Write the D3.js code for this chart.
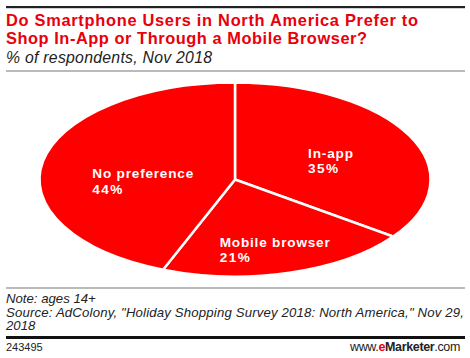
<!DOCTYPE html>
<html><head><meta charset="utf-8">
<script src="https://cdn.jsdelivr.net/npm/d3@7"></script>
<style>body{margin:0;background:#fff}svg{display:block}</style>
</head><body>
<svg id="c" width="470" height="358"></svg>
<script>
const categories = ["In-app", "Mobile browser", "No preference"];
const values = [35, 21, 44];
const valueLabels = ["35%", "21%", "44%"];

const svg = d3.select("#c");
const L = 6, R = 465;
const red = "#ff0000";
const font = "'Liberation Sans', Arial, sans-serif";

// header
svg.append("rect").attr("x", L).attr("y", 6).attr("width", R - L).attr("height", 2.2).attr("fill", "#222");
const title = svg.append("g").attr("font-family", font).attr("font-weight", "bold").attr("font-size", 16.4).attr("fill", "#e8000b");
title.append("text").attr("x", L).attr("y", 26).attr("textLength", 412).attr("lengthAdjust", "spacing").text("Do Smartphone Users in North America Prefer to");
title.append("text").attr("x", L).attr("y", 44).attr("textLength", 361).attr("lengthAdjust", "spacing").text("Shop In-App or Through a Mobile Browser?");
svg.append("text").attr("x", L).attr("y", 63).attr("font-family", font).attr("font-style", "italic").attr("font-size", 15.8).attr("fill", "#222")
  .attr("textLength", 206).attr("lengthAdjust", "spacing").text("% of respondents, Nov 2018");
svg.append("rect").attr("x", L).attr("y", 70.5).attr("width", R - L).attr("height", 1).attr("fill", "#777");

// pie
const cx = 235, cy = 179.5, rx = 195.5, ry = 97;
const pie = d3.pie().sort(null).value(d => d.v);
const data = pie(categories.map((c, i) => ({c, v: values[i], l: valueLabels[i]})));
const arc = d3.arc().innerRadius(0).outerRadius(rx);
const g = svg.append("g").attr("transform", `translate(${cx},${cy}) scale(1,${ry / rx})`);
g.selectAll("path").data(data).join("path")
  .attr("d", arc).attr("fill", red)
  .attr("stroke", "#fff").attr("stroke-width", 2.5).attr("stroke-linejoin", "miter")
  .attr("vector-effect", "non-scaling-stroke");

const shifts = [[-9, 7], [7, 14], [23, 12]];
data.forEach((d, i) => {
  const a = (d.startAngle + d.endAngle) / 2;
  const x = cx + rx * 0.6 * Math.sin(a) + shifts[i][0];
  const y = cy - ry * 0.6 * Math.cos(a) + shifts[i][1];
  const lg = svg.append("g").attr("font-family", font).attr("font-weight", "bold").attr("font-size", 15).attr("fill", "#fff");
  const t1 = lg.append("text").attr("y", y - 2.5).text(d.data.c);
  const w = t1.node().getComputedTextLength();
  const t2 = lg.append("text").attr("x", x - w / 2).attr("y", y + 13).text(d.data.l);
  const w2 = t2.node().getComputedTextLength();
  lg.attr("font-size", 13.6);
  t1.attr("x", x - w / 2).attr("textLength", w).attr("lengthAdjust", "spacing");
  t2.attr("textLength", w2).attr("lengthAdjust", "spacing");
});

// footer
svg.append("rect").attr("x", L).attr("y", 287.5).attr("width", R - L).attr("height", 1).attr("fill", "#777");
const foot = svg.append("g").attr("font-family", font).attr("font-style", "italic").attr("font-size", 13.2).attr("fill", "#222");
foot.append("text").attr("x", L).attr("y", 303).text("Note: ages 14+");
foot.append("text").attr("x", L).attr("y", 316.5).attr("textLength", 458).attr("lengthAdjust", "spacing").text("Source: AdColony, \"Holiday Shopping Survey 2018: North America,\" Nov 29,");
foot.append("text").attr("x", L).attr("y", 330).text("2018");
svg.append("rect").attr("x", L).attr("y", 336).attr("width", R - L).attr("height", 3).attr("fill", "#111");
svg.append("text").attr("x", L).attr("y", 351).attr("font-family", font).attr("font-size", 11).attr("fill", "#222").text("243495");
const brand = svg.append("text").attr("x", 350).attr("y", 351).attr("font-family", font).attr("font-size", 12.5).attr("fill", "#222");
brand.append("tspan").text("www.");
brand.append("tspan").attr("fill", "#e8000b").attr("font-weight", "bold").text("e");
brand.append("tspan").attr("font-weight", "bold").text("Marketer");
brand.append("tspan").text(".com");
const bw = brand.node().getComputedTextLength();
brand.attr("letter-spacing", (110 - bw) / 17);
</script>
</body></html>
